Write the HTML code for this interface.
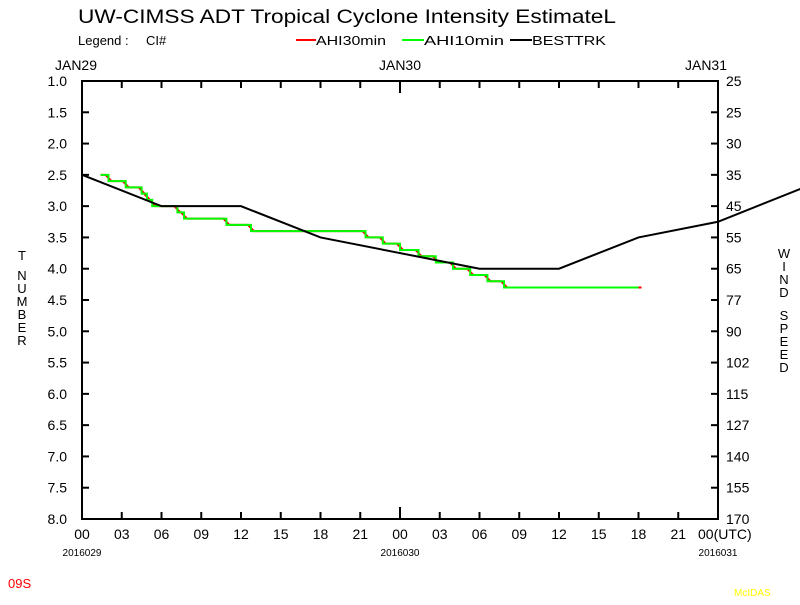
<!DOCTYPE html>
<html><head><meta charset="utf-8"><style>
body{margin:0;background:#fff}
svg text{font-family:"Liberation Sans","DejaVu Sans",sans-serif;fill:#000}
</style></head><body>
<svg id="c" width="800" height="600" xmlns="http://www.w3.org/2000/svg">
<text x="78" y="23" font-size="19" textLength="538" lengthAdjust="spacingAndGlyphs">UW-CIMSS ADT Tropical Cyclone Intensity EstimateL</text>
<g font-size="13">
<text x="78" y="45">Legend :</text><text x="146" y="45">CI#</text>
<line x1="296" y1="40" x2="316" y2="40" stroke="#f00" stroke-width="2"/><text x="316" y="45" textLength="70" lengthAdjust="spacingAndGlyphs">AHI30min</text>
<line x1="402" y1="40" x2="424" y2="40" stroke="#0f0" stroke-width="2"/><text x="424" y="45" textLength="80" lengthAdjust="spacingAndGlyphs">AHI10min</text>
<line x1="510" y1="40" x2="532" y2="40" stroke="#000" stroke-width="2"/><text x="532" y="45" textLength="74" lengthAdjust="spacingAndGlyphs">BESTTRK</text>
</g>
<g id="axes"></g><g id="series"></g>
<text x="8" y="588" font-size="13" style="fill:#f00">09S</text>
<text x="734" y="596" font-size="10" style="fill:#ff0">McIDAS</text>
</svg>
<script>
const ciTicks=[1.0,1.5,2.0,2.5,3.0,3.5,4.0,4.5,5.0,5.5,6.0,6.5,7.0,7.5,8.0];
const windTicks=[25,25,30,35,45,55,65,77,90,102,115,127,140,155,170];
const hourLabels=["00","03","06","09","12","15","18","21","00","03","06","09","12","15","18","21","00(UTC)"];
const dayLabels=["JAN29","JAN30","JAN31"];
const dateLabels=["2016029","2016030","2016031"];
const bestT=[0,6,12,18,30,36,42,48,54.5];
const bestV=[2.5,3.0,3.0,3.5,4.0,4.0,3.5,3.25,2.7];
const stepT=[1.4,2.0,3.3,4.5,4.9,5.3,7.2,7.7,10.9,12.75,21.4,22.7,24.0,25.4,26.7,28.0,29.3,30.6,31.85,42];
const stepV=[2.5,2.6,2.7,2.8,2.9,3.0,3.1,3.2,3.3,3.4,3.5,3.6,3.7,3.8,3.9,4.0,4.1,4.2,4.3,4.3];
const X0=82,X1=718,Y0=81,Y1=519;
const xs=h=>X0+(X1-X0)*h/48, ys=v=>Y0+(Y1-Y0)*(v-1)/7;
const NS="http://www.w3.org/2000/svg";
function mk(tag,attrs,parent,txt){const e=document.createElementNS(NS,tag);for(const k in attrs)e.setAttribute(k,attrs[k]);if(txt!==undefined)e.textContent=txt;parent.appendChild(e);return e;}
const ax=document.getElementById('axes'),se=document.getElementById('series');
const frame=mk('rect',{x:X0,y:Y0,width:X1-X0,height:Y1-Y0,fill:'none',stroke:'#000','stroke-width':2},ax);


ciTicks.forEach((v,i)=>{const y=ys(v);
mk('line',{x1:X0,y1:y,x2:X0+7,y2:y,stroke:'#000','stroke-width':2},ax);
mk('line',{x1:X1-7,y1:y,x2:X1,y2:y,stroke:'#000','stroke-width':2},ax);
const t=mk('text',{x:X0-15,y:y+5,'font-size':14,'text-anchor':'end'},ax,v.toFixed(1));


const w=mk('text',{x:X1+8,y:y+5,'font-size':14},ax,windTicks[i]);

});
hourLabels.forEach((l,i)=>{const x=xs(i*3);const big=i%8==0;
mk('line',{x1:x,y1:Y0,x2:x,y2:Y0+(big?12:7),stroke:'#000','stroke-width':2},ax);
mk('line',{x1:x,y1:Y1,x2:x,y2:Y1-(big?12:7),stroke:'#000','stroke-width':2},ax);
const t=mk('text',{x:i==16?x-20:x,y:Y1+20,'font-size':14,'text-anchor':i==16?'start':'middle'},ax,l);

});
dayLabels.forEach((l,i)=>{const x=xs(i*24)-(i==2?12:i==0?6:0);
const t=mk('text',{x:x,y:70,'font-size':14,'text-anchor':'middle'},ax,l);


const d=mk('text',{x:xs(i*24),y:556,'font-size':10,'text-anchor':'middle'},ax,dateLabels[i]);

});
"TNUMBER".split('').forEach((c,i)=>{const t=mk('text',{x:22,y:i==0?260:i*13+267,'font-size':13,'text-anchor':'middle'},ax,c);

});
"WINDSPEED".split('').forEach((c,i)=>{const t=mk('text',{x:784,y:(i<4?258+i*13:258+i*13+10),'font-size':13,'text-anchor':'middle'},ax,c);

});
function stepPath(diag){let d='';for(let i=0;i<stepT.length;i++){const x=xs(stepT[i]),y=ys(stepV[i]);
if(i==0)d+='M'+x+','+y;else{d+=diag?' L'+(x-3)+','+ys(stepV[i-1])+' L'+(x+3)+','+y:' L'+x+','+ys(stepV[i-1])+' L'+x+','+y;}}return d;}
const red=mk('path',{d:stepPath(true),fill:'none',stroke:'#f00','stroke-width':2},se);


const green=mk('path',{d:stepPath(false),fill:'none',stroke:'#0f0','stroke-width':2},se);


const bt=mk('polyline',{points:bestT.map((t,i)=>xs(t)+','+ys(bestV[i])).join(' '),fill:'none',stroke:'#000','stroke-width':2},se);


</script>
</body></html>
